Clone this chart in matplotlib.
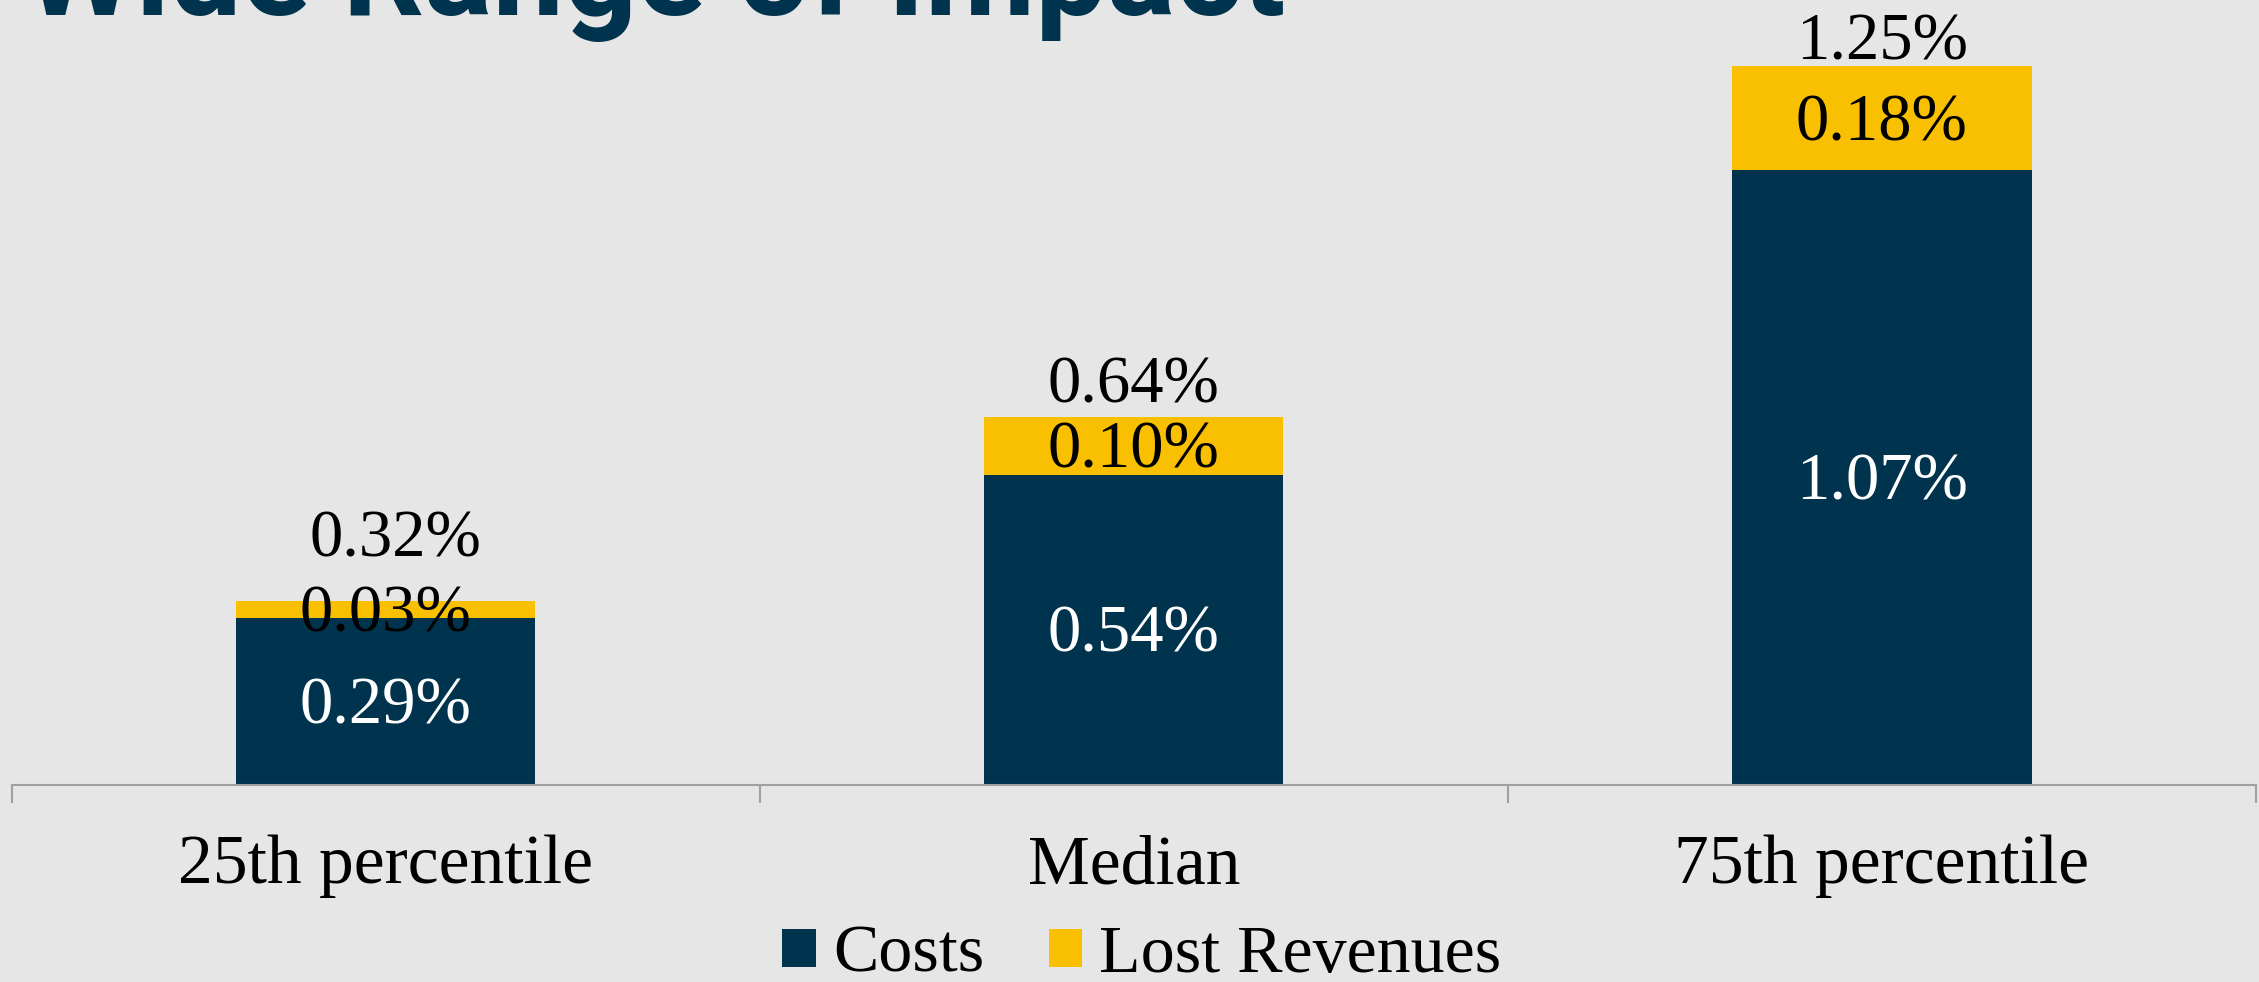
import matplotlib
matplotlib.use("Agg")
import matplotlib.pyplot as plt
from matplotlib.patches import Patch

# chart values (percent of revenue)
categories = ["25th percentile", "Median", "75th percentile"]
costs = [0.29, 0.54, 1.07]
lost_revenues = [0.03, 0.10, 0.18]
totals = [0.32, 0.64, 1.25]
series_names = ["Costs", "Lost Revenues"]

navy = "#00334E"
gold = "#F8C000"
bg = "#E6E6E6"
serif = "Liberation Serif"

# label offsets above the stacks, in points (x, y)
total_offsets = [(7, 44), (0, 22), (0, 17)]
nudge = -4  # serif digits sit a little low in the source

fig = plt.figure(figsize=(22.59, 9.82), dpi=100, facecolor=bg)
ax = fig.add_axes([11.5 / 2259, 197 / 982, 2244.5 / 2259, 785 / 982])
ax.set_facecolor(bg)

x = list(range(len(categories)))
ax.bar(x, costs, width=0.4, color=navy, zorder=2)
ax.bar(x, lost_revenues, width=0.4, bottom=costs, color=gold, zorder=2)

for i in x:
    ax.annotate(f"{costs[i]:.2f}%", xy=(i, costs[i] / 2), xytext=(0, nudge),
                textcoords="offset points", ha="center", va="center",
                color="white", fontsize=48, family=serif, zorder=3)
    ax.annotate(f"{lost_revenues[i]:.2f}%", xy=(i, costs[i] + lost_revenues[i] / 2),
                xytext=(0, nudge), textcoords="offset points", ha="center", va="center",
                color="black", fontsize=48, family=serif, zorder=3)
    ax.annotate(f"{totals[i]:.2f}%", xy=(i, totals[i]), xytext=total_offsets[i],
                textcoords="offset points", ha="center", va="center",
                color="black", fontsize=48, family=serif, zorder=3)

ax.set_xlim(-0.5, 2.5)
ax.set_ylim(0, 785 / 575)

for side in ["top", "left", "right"]:
    ax.spines[side].set_visible(False)
ax.spines["bottom"].set_color("#A0A0A0")
ax.spines["bottom"].set_linewidth(1.5)
ax.yaxis.set_visible(False)

ax.set_xticks(x)
ax.set_xticklabels(categories, fontsize=50, family=serif)
ax.tick_params(axis="x", which="major", length=0, pad=36)
ax.set_xticks([-0.5, 0.5, 1.5, 2.5], minor=True)
ax.tick_params(axis="x", which="minor", length=13, width=1.5, color="#A0A0A0", direction="out")

handles = [Patch(facecolor=navy, label=series_names[0]),
           Patch(facecolor=gold, label=series_names[1])]
fig.legend(handles=handles, loc="center", bbox_to_anchor=(0.5055, 0.027),
           ncol=2, frameon=False, prop={"family": serif, "size": 49},
           handlelength=0.49, handleheight=0.49, handletextpad=0.25,
           columnspacing=0.95, borderpad=0)

# title sits mostly above the visible area, as in the source slide
fig.text(24 / 2259, 1 - 15 / 982, "Wide Range of Impact", color=navy,
         fontsize=92, fontweight="bold", family="Roboto", va="baseline", ha="left")

fig.savefig("out.png", dpi=100, facecolor=bg)
